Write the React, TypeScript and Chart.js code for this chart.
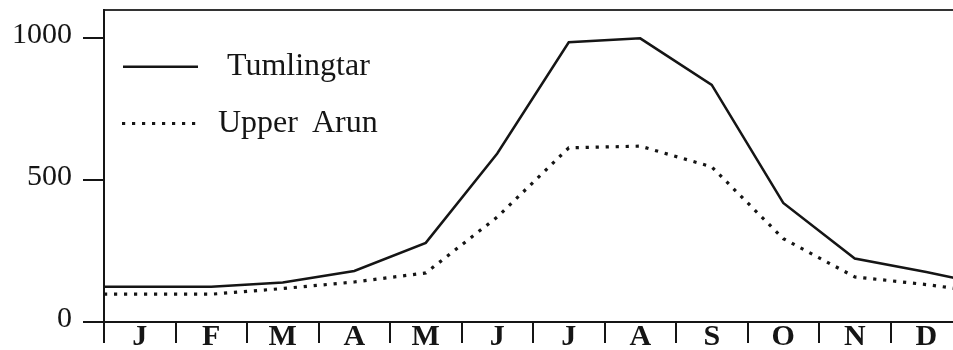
import React, { useEffect, useRef } from "react";
import { Chart, registerables } from "chart.js";

Chart.register(...registerables);

// Mean monthly discharge-style values for the two stations
const MONTHS = ["J", "F", "M", "A", "M", "J", "J", "A", "S", "O", "N", "D"];
const TUMLINGTAR = [124, 124, 139, 180, 279, 594, 986, 1000, 836, 420, 224, 176];
const UPPER_ARUN = [98, 98, 118, 141, 173, 370, 614, 620, 547, 294, 159, 132];
const SERIES_NAMES = ["Tumlingtar", "Upper Arun"];
const Y_TICKS = [0, 500, 1000];
const Y_MAX = 1100;

const INK = "#151515";
const SERIF = "'Liberation Serif', 'Times New Roman', serif";

// Each month sits in the middle of its band [i, i + 1]. The trace starts at the
// axis on January's level and runs off the right edge heading back toward January.
function toPoints(values: number[]) {
  const pts = values.map((v, i) => ({ x: i + 0.5, y: v }));
  return [
    { x: 0, y: values[0] },
    ...pts,
    { x: 12, y: (values[values.length - 1] + values[0]) / 2 },
  ];
}

// Legend drawn inside the plot, top-left, with line samples in each series' style
const insetLegend = {
  id: "insetLegend",
  afterDatasetsDraw(chart: any) {
    const { ctx, chartArea } = chart;
    const rows = [
      { lineY: 56.7, textY: 65, x0: 19, x1: 94, tx: 123 },
      { lineY: 113.5, textY: 121.5, x0: 18, x1: 94, tx: 114 },
    ];
    chart.data.datasets.forEach((ds: any, i: number) => {
      const r = rows[i];
      ctx.save();
      ctx.strokeStyle = ds.borderColor;
      ctx.lineWidth = ds.borderWidth;
      ctx.lineCap = "butt";
      ctx.setLineDash(ds.borderDash || []);
      ctx.beginPath();
      ctx.moveTo(chartArea.left + r.x0, chartArea.top + r.lineY);
      ctx.lineTo(chartArea.left + r.x1, chartArea.top + r.lineY);
      ctx.stroke();
      ctx.setLineDash([]);
      ctx.fillStyle = INK;
      ctx.font = `32px ${SERIF}`;
      ctx.textBaseline = "alphabetic";
      ctx.textAlign = "left";
      (ctx as any).wordSpacing = "6px";
      ctx.fillText(ds.label, chartArea.left + r.tx, chartArea.top + r.textY);
      ctx.restore();
    });
  },
};

export default function App() {
  const canvasRef = useRef<HTMLCanvasElement | null>(null);

  useEffect(() => {
    const canvas = canvasRef.current;
    if (!canvas) return;
    const chart = new Chart(canvas, {
      type: "line",
      data: {
        datasets: [
          {
            label: SERIES_NAMES[0],
            data: toPoints(TUMLINGTAR),
            borderColor: INK,
            borderWidth: 2.5,
            pointRadius: 0,
            tension: 0,
            fill: false,
          },
          {
            label: SERIES_NAMES[1],
            data: toPoints(UPPER_ARUN),
            borderColor: INK,
            borderWidth: 3.2,
            borderDash: [3.2, 6.8],
            borderCapStyle: "butt",
            pointRadius: 0,
            tension: 0,
            fill: false,
          },
        ],
      },
      options: {
        animation: false,
        responsive: false,
        devicePixelRatio: 1,
        layout: { padding: { top: 10, left: 0, right: 0, bottom: 0 } },
        plugins: { legend: { display: false }, tooltip: { enabled: false } },
        scales: {
          x: {
            type: "linear",
            position: "bottom",
            min: 0,
            max: 12,
            afterBuildTicks: (s: any) => {
              s.ticks = Array.from({ length: 25 }, (_, k) => ({ value: k / 2 }));
            },
            afterFit: (s: any) => {
              s.height = 28;
              s.paddingLeft = 0;
              s.paddingRight = 0;
            },
            ticks: {
              autoSkip: false,
              maxRotation: 0,
              minRotation: 0,
              padding: -24,
              color: INK,
              font: { family: SERIF, size: 30, weight: "bold" },
              callback: (v: any) => (Number.isInteger(v) ? "" : MONTHS[Math.floor(v)]),
            },
            grid: {
              drawOnChartArea: false,
              drawTicks: true,
              tickLength: 21,
              lineWidth: 2,
              color: (c: any) =>
                c.tick && Number.isInteger(c.tick.value) ? INK : "rgba(0,0,0,0)",
            },
            border: { display: true, color: INK, width: 2 },
          },
          xTop: {
            type: "linear",
            position: "top",
            min: 0,
            max: 12,
            ticks: { display: false },
            grid: { display: false, drawTicks: false },
            border: { display: true, color: "#333", width: 2 },
            afterFit: (s: any) => {
              s.height = 0;
              s.paddingLeft = 0;
              s.paddingRight = 0;
            },
          },
          y: {
            type: "linear",
            min: 0,
            max: Y_MAX,
            afterBuildTicks: (s: any) => {
              s.ticks = Y_TICKS.map((value) => ({ value }));
            },
            afterFit: (s: any) => {
              s.width = 104;
              s.paddingTop = 0;
              s.paddingBottom = 0;
            },
            ticks: {
              padding: 11,
              labelOffset: -3,
              color: INK,
              font: { family: SERIF, size: 30 },
              callback: (v: any) => String(v),
            },
            grid: {
              drawOnChartArea: false,
              drawTicks: true,
              tickLength: 21,
              lineWidth: 2,
              color: INK,
            },
            border: { display: true, color: INK, width: 2 },
          },
        },
      },
      plugins: [insetLegend],
    });
    return () => chart.destroy();
  }, []);

  return (
    <div
      style={{
        position: "fixed",
        left: 0,
        top: 0,
        width: 953,
        height: 350,
        overflow: "hidden",
        background: "#fff",
      }}
    >
      <canvas ref={canvasRef} width={962} height={350} style={{ width: 962, height: 350, display: "block" }} />
    </div>
  );
}
